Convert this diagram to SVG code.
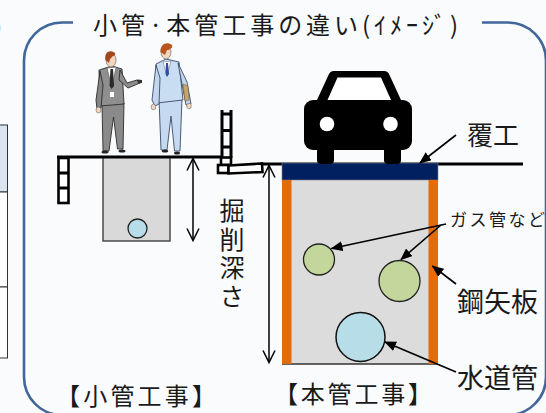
<svg xmlns="http://www.w3.org/2000/svg" width="546" height="413" viewBox="0 0 546 413">
  <style>
    text { font-family: "Noto Sans CJK JP", "Noto Sans", sans-serif; fill: #1a1a1a; }
    .heavy { fill: none; stroke: #000; stroke-width: 3; }
    .dim { fill: none; stroke: #000; stroke-width: 1.5; }
    .lead { stroke: #000; stroke-width: 1.6; marker-end: url(#head); }
    .pipe { stroke: #222; stroke-width: 1.3; }
    .ladder { fill: #fff; stroke: #000; stroke-width: 2.6; }
  </style>
  <defs>
    <marker id="head" viewBox="0 0 12 10" refX="11" refY="5" markerWidth="12" markerHeight="10" markerUnits="userSpaceOnUse" orient="auto">
      <path d="M0,0 L12,5 L0,10 Z" fill="#000"/>
    </marker>
  </defs>

  <rect width="546" height="413" fill="#f9fbfd"/>

  <!-- neighbouring table edge and bracket at the left border -->
  <g id="left-table">
    <rect x="-2" y="125" width="9.5" height="67" fill="#dbe5f1" stroke="#333" stroke-width="1"/>
    <rect x="-2" y="192" width="9.5" height="95" fill="#fff" stroke="#333" stroke-width="1"/>
    <rect x="-2" y="287" width="9.5" height="71" fill="#fff" stroke="#333" stroke-width="1"/>
    <text x="-6" y="35" font-size="24">)</text>
  </g>

  <!-- rounded frame with a gap for the heading -->
  <g id="frame">
    <path d="M73,22.5 H62 A38,38 0 0 0 24,60.5 V377 A38,38 0 0 0 62,415 H508 A38,38 0 0 0 546,377 V60.5 A38,38 0 0 0 508,22.5 H482" fill="none" stroke="#41679a" stroke-width="2.6"/>
    <text x="93" y="33.5" font-size="24" textLength="365" lengthAdjust="spacing">小管·本管工事の違い(ｲﾒｰｼﾞ)</text>
  </g>

  <!-- small-pipe work -->
  <g id="small-trench">
    <rect x="103" y="157" width="67" height="84" fill="#d9d9d9" stroke="#404040" stroke-width="1.4"/>
    <circle cx="137.5" cy="228.5" r="9.5" fill="#b7dde8" class="pipe"/>
  </g>
  <g id="small-ground">
    <line x1="57" y1="157" x2="223" y2="157" class="heavy"/>
    <rect x="58.5" y="158" width="10" height="45" class="ladder"/>
    <line x1="58.5" y1="173" x2="68.5" y2="173" class="heavy" stroke-width="2.6"/>
    <line x1="58.5" y1="188" x2="68.5" y2="188" class="heavy" stroke-width="2.6"/>
  </g>
  <g id="ladder">
    <line x1="222" y1="110" x2="222" y2="158" class="heavy" stroke-width="2.6"/>
    <line x1="231" y1="110" x2="231" y2="158" class="heavy" stroke-width="2.6"/>
    <line x1="222" y1="114" x2="231" y2="114" class="heavy" stroke-width="2.6"/>
    <line x1="222" y1="130.5" x2="231" y2="130.5" class="heavy" stroke-width="2.6"/>
    <line x1="222" y1="147" x2="231" y2="147" class="heavy" stroke-width="2.6"/>
    <rect x="221" y="157.5" width="10" height="7.5" class="ladder"/>
    <rect x="218" y="165" width="10.5" height="8" class="ladder"/>
    <path d="M228.5,165.5 L262,163.5 L262.5,172 L228.5,173.5 Z" class="ladder"/>
  </g>

  <g id="men">
    <!-- man in grey suit -->
    <g id="man-grey">
      <path d="M102,104 L124,103 L123,149 L117.5,149 L113.5,117 L109,151 L103,151 Z" fill="#8a8a8a" stroke="#2b2b2b" stroke-width="0.9"/>
      <path d="M99,70 L112,66 L122,69 L124,104 L100,106 Z" fill="#8f8f8f" stroke="#2b2b2b" stroke-width="0.9"/>
      <path d="M100,71 L96,100 L97,109 L101,108 L103,85 Z" fill="#858585" stroke="#2b2b2b" stroke-width="0.9"/>
      <path d="M120,70 L127,83 L137,80 L140,83 L128,88 L119,80 Z" fill="#8c8c8c" stroke="#2b2b2b" stroke-width="0.9"/>
      <path d="M137,79.5 L142,80 L142,83 L138,83.5 Z" fill="#333"/>
      <path d="M107,68 L116,67 L112,88 Z" fill="#fff" stroke="#555" stroke-width="0.6"/>
      <path d="M110.5,69 L113,69 L114,86 L111.5,89 L109.5,86 Z" fill="#2a2a2a"/>
      <rect x="110" y="92" width="4" height="5" fill="#fff"/>
      <ellipse cx="98.5" cy="110" rx="2.5" ry="3" fill="#f3d6bd" stroke="#555" stroke-width="0.5"/>
      <ellipse cx="111" cy="60" rx="5" ry="7" fill="#f3d6bd" stroke="#555" stroke-width="0.6"/>
      <path d="M105.5,60 C104,52 110,49 115,53 C116,56 113,55 112,57 L110,59 L109,63 Z" fill="#a2461e"/>
      <ellipse cx="105" cy="152" rx="3.5" ry="1.6" fill="#222"/>
      <ellipse cx="122" cy="151" rx="3.5" ry="1.6" fill="#222"/>
    </g>
    <!-- man in light-blue suit -->
    <g id="man-blue">
      <path d="M159,99 L182,98 L180,151 L174.5,151 L171,116 L167,150 L161,150 Z" fill="#c5daf1" stroke="#3b4a66" stroke-width="0.9"/>
      <path d="M156,64 L166,59 L179,62 L183,100 L157,103 Z" fill="#c8dcf2" stroke="#3b4a66" stroke-width="0.9"/>
      <path d="M156,65 L152,100 L155,106 L159,104 L160,78 Z" fill="#c2d7ee" stroke="#3b4a66" stroke-width="0.9"/>
      <path d="M178,63 L187,82 L191,104 L186,105 L182,84 Z" fill="#c2d7ee" stroke="#3b4a66" stroke-width="0.9"/>
      <path d="M183,84 L188,86 L189,100 L185,101 Z" fill="#c9a66b" stroke="#6b5530" stroke-width="0.5"/>
      <path d="M163,62 L171,61 L167,76 Z" fill="#fff" stroke="#667" stroke-width="0.5"/>
      <path d="M166,63 L168,63 L169,74 L167,77 L165.5,74 Z" fill="#2c4fa0"/>
      <ellipse cx="153.5" cy="107" rx="2.3" ry="2.8" fill="#f3d6bd" stroke="#555" stroke-width="0.5"/>
      <ellipse cx="189" cy="106" rx="2.3" ry="2.8" fill="#f3d6bd" stroke="#555" stroke-width="0.5"/>
      <ellipse cx="166" cy="52" rx="5" ry="7" fill="#f3d6bd" stroke="#555" stroke-width="0.6"/>
      <path d="M160.5,52 C160,44 167,41 172,45 C173,49 170,48 169,50 L167,50 L165,55 Z" fill="#b8561e"/>
      <ellipse cx="165" cy="151" rx="3.2" ry="1.6" fill="#222"/>
      <ellipse cx="177" cy="153" rx="3" ry="1.6" fill="#222"/>
    </g>
  </g>

  <!-- main-pipe work -->
  <g id="main-ground">
    <line x1="262" y1="164" x2="523" y2="164" class="heavy"/>
  </g>
  <g id="main-trench">
    <rect x="282" y="180" width="156" height="184" fill="#dcdcdc"/>
    <line x1="282" y1="364" x2="438" y2="364" stroke="#333" stroke-width="1.3"/>
    <rect x="282" y="163" width="156" height="17" fill="#002060" stroke="#7f7f7f" stroke-width="0.6"/>
  </g>
  <g id="sheet-piles">
    <rect x="282" y="180" width="9.5" height="184" fill="#e36c09"/>
    <rect x="428.5" y="180" width="9.5" height="184" fill="#e36c09"/>
  </g>
  <g id="pipes">
    <circle cx="319" cy="259.5" r="15.5" fill="#c3d69b" class="pipe"/>
    <circle cx="399.5" cy="281" r="20.5" fill="#c3d69b" class="pipe"/>
    <circle cx="360.5" cy="337" r="24.5" fill="#b7dee8" stroke="#111" stroke-width="1.5"/>
  </g>

  <g id="car">
    <path d="M334,71 H384 Q388,71 389.5,75 L401,100 H317 L328.5,75 Q330,71 334,71 Z" fill="#000"/>
    <path d="M337.5,77.5 H381 L391,100 H327.5 Z" fill="#fff"/>
    <rect x="304" y="100" width="108" height="50" rx="9" fill="#000"/>
    <rect x="317" y="140" width="17" height="24" rx="4" fill="#000"/>
    <rect x="384" y="140" width="17" height="24" rx="4" fill="#000"/>
    <circle cx="327" cy="124" r="7.3" fill="#fff"/>
    <circle cx="390.5" cy="124" r="7.3" fill="#fff"/>
  </g>

  <g id="connectors">
    <!-- depth dimensions -->
    <line x1="193" y1="159" x2="193" y2="240" class="dim"/>
    <polyline points="187,170.5 193,158.5 199,170.5" class="dim"/>
    <polyline points="187,228.5 193,240.5 199,228.5" class="dim"/>
    <line x1="269" y1="166" x2="269" y2="362" class="dim"/>
    <polyline points="263,177.5 269,165.5 275,177.5" class="dim"/>
    <polyline points="263,350.5 269,362.5 275,350.5" class="dim"/>
    <!-- leaders -->
    <line x1="456" y1="135" x2="420" y2="163" class="lead"/>
    <line x1="446" y1="224" x2="331.5" y2="248.5" class="lead"/>
    <line x1="441" y1="225" x2="401" y2="259.5" class="lead"/>
    <line x1="456" y1="284" x2="432.5" y2="266" class="lead"/>
    <line x1="456" y1="372" x2="385" y2="342" class="lead"/>
  </g>

  <g id="labels">
    <text x="467" y="145" font-size="26">覆工</text>
    <text x="450" y="226" font-size="17" textLength="95" lengthAdjust="spacing">ガス管など</text>
    <text x="457" y="312" font-size="27">鋼矢板</text>
    <text x="457" y="388" font-size="27">水道管</text>
    <text x="274" y="403" font-size="24" textLength="158" lengthAdjust="spacing">【本管工事】</text>
    <text x="56" y="405" font-size="24" textLength="160" lengthAdjust="spacing">【小管工事】</text>
    <text x="232" y="198" font-size="25" writing-mode="vertical-rl" letter-spacing="3.5">掘削深さ</text>
  </g>
</svg>
